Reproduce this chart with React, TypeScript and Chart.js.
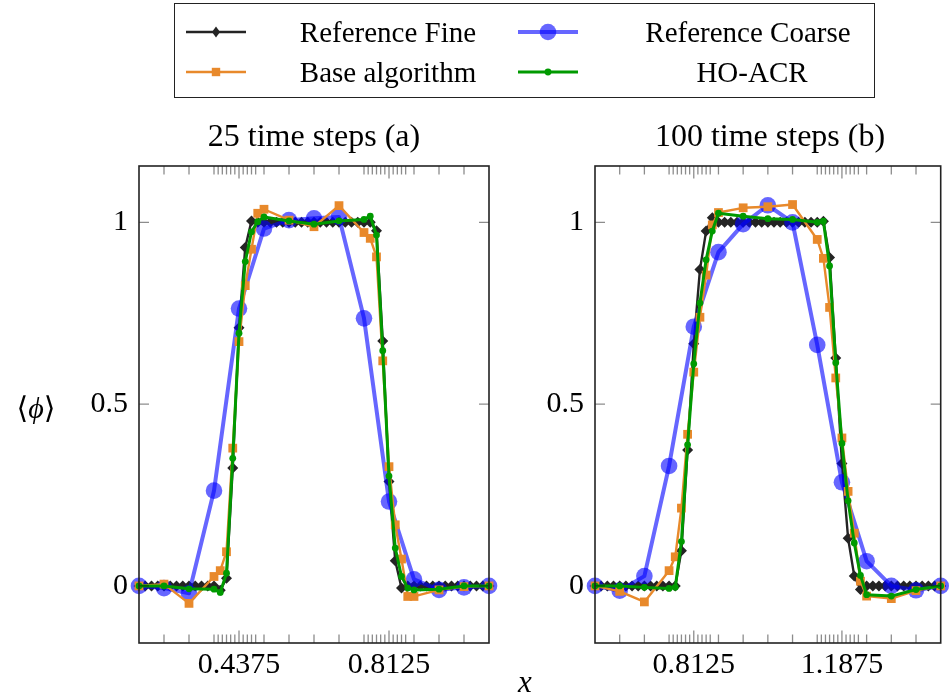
import React, { useEffect, useRef } from "react";
import { Chart, registerables } from "chart.js";

Chart.register(...registerables);

const FONT = "'Liberation Serif', 'DejaVu Serif', serif";

// ---------- shared ----------
const seriesNames = ["Reference Fine", "Reference Coarse", "Base algorithm", "HO-ACR"];
const panelTitles = ["25 time steps (a)", "100 time steps (b)"];
const yTicks = [0, 0.5, 1];
const yTickLabels = ["0", "0.5", "1"];

// ---------- left panel: 25 time steps ----------
const fineXL = [12/64, 13/64, 14/64, 15/64, 16/64, 17/64, 18/64, 19/64, 20/64, 21/64, 22/64, 23/64, 24/64, 25/64, 26/64, 27/64, 28/64, 29/64, 30/64, 31/64, 32/64, 33/64, 34/64, 35/64, 36/64, 37/64, 38/64, 39/64, 40/64, 41/64, 42/64, 43/64, 44/64, 45/64, 46/64, 47/64, 48/64, 49/64, 50/64, 51/64, 52/64, 53/64, 54/64, 55/64, 56/64, 57/64, 58/64, 59/64, 60/64, 61/64, 62/64, 63/64, 64/64, 65/64, 66/64, 67/64, 68/64];
const fineYL = [0, 0, 0, 0, 0, 0, 0, 0, 0, 0, 0, 0, 0,
  -0.012, 0.021, 0.324, 0.71, 0.931, 1.004,
  1, 1, 1, 1, 1, 1, 1, 1, 1, 1, 1, 1, 1, 1, 1, 1, 1, 1, 1,
  0.977, 0.674, 0.287, 0.069, -0.006,
  0, 0, 0, 0, 0, 0, 0, 0, 0, 0, 0, 0, 0, 0];
const coarseXL = [3/16, 4/16, 5/16, 6/16, 7/16, 8/16, 9/16, 10/16, 11/16, 12/16, 13/16, 14/16, 15/16, 16/16, 17/16];
const coarseYL = [0, -0.006, -0.02, 0.262, 0.763, 0.983, 1.006, 1.011, 1.015, 0.736, 0.232, 0.018, -0.011, -0.004, 0];
const adaptXL = [3/16, 4/16, 5/16, 24/64, 25/64, 26/64, 27/64, 28/64, 29/64, 30/64, 31/64, 32/64, 9/16, 10/16, 11/16, 48/64, 49/64, 50/64, 51/64, 52/64, 53/64, 54/64, 55/64, 56/64, 15/16, 16/16, 17/16];
const baseYL = [0, 0.005, -0.048, 0.026, 0.042, 0.094, 0.379, 0.672, 0.826, 0.926, 1.025, 1.036, 1.006, 0.988, 1.046, 0.972, 0.956, 0.905, 0.619, 0.328, 0.168, 0.074, -0.029, -0.029, -0.011, -0.002, 0];
const hoYL = [0, 0, -0.008, -0.009, -0.018, 0.035, 0.351, 0.695, 0.892, 0.974, 1.002, 1.015, 1.004, 0.995, 1.004, 1.008, 1.017, 0.965, 0.647, 0.302, 0.104, 0.026, -0.006, -0.011, -0.009, 0, 0];
const xMajorL = [0.4375, 0.8125];
const xMajorLabelsL = ["0.4375", "0.8125"];
const xMinorL = [4/16, 5/16, 6/16, 8/16, 9/16, 10/16, 11/16, 12/16, 14/16, 15/16, 16/16,
  37/96, 38/96, 39/96, 40/96, 41/96, 43/96, 44/96, 45/96, 46/96,
  73/96, 74/96, 75/96, 76/96, 77/96, 79/96, 80/96, 81/96, 82/96];

// ---------- right panel: 100 time steps ----------
const fineXR = [36/64, 37/64, 38/64, 39/64, 40/64, 41/64, 42/64, 43/64, 44/64, 45/64, 46/64, 47/64, 48/64, 49/64, 50/64, 51/64, 52/64, 53/64, 54/64, 55/64, 56/64, 57/64, 58/64, 59/64, 60/64, 61/64, 62/64, 63/64, 64/64, 65/64, 66/64, 67/64, 68/64, 69/64, 70/64, 71/64, 72/64, 73/64, 74/64, 75/64, 76/64, 77/64, 78/64, 79/64, 80/64, 81/64, 82/64, 83/64, 84/64, 85/64, 86/64, 87/64, 88/64, 89/64, 90/64, 91/64, 92/64];
const fineYR = [0, 0, 0, 0, 0, 0, 0, 0, 0, 0, 0, 0, 0, 0,
  0.097, 0.374, 0.666, 0.87, 0.976, 1.013,
  1, 1, 1, 1, 1, 1, 1, 1, 1, 1, 1, 1, 1, 1, 1, 1, 1,
  1.003,
  0.903, 0.627, 0.337, 0.131, 0.027, -0.01,
  0, 0, 0, 0, 0, 0, 0, 0, 0, 0, 0, 0, 0];
const coarseXR = [9/16, 10/16, 11/16, 12/16, 13/16, 14/16, 15/16, 16/16, 17/16, 18/16, 19/16, 20/16, 21/16, 22/16, 23/16];
const coarseYR = [0, -0.013, 0.027, 0.33, 0.713, 0.918, 0.995, 1.047, 1.0, 0.663, 0.285, 0.068, 0, -0.012, 0];
const adaptXR = [9/16, 10/16, 11/16, 48/64, 49/64, 50/64, 51/64, 52/64, 53/64, 54/64, 55/64, 56/64, 15/16, 16/16, 17/16, 72/64, 73/64, 74/64, 75/64, 76/64, 77/64, 78/64, 79/64, 80/64, 21/16, 22/16, 23/16];
const baseYR = [0, -0.015, -0.044, 0.042, 0.08, 0.214, 0.417, 0.588, 0.739, 0.855, 0.993, 1.027, 1.04, 1.043, 1.049, 0.953, 0.901, 0.766, 0.572, 0.407, 0.26, 0.145, 0.013, -0.028, -0.035, -0.013, 0];
const hoYR = [0, 0, -0.004, -0.007, -0.004, 0.122, 0.388, 0.611, 0.778, 0.897, 0.976, 1.025, 1.017, 1.01, 1.008, 1.0, 1.003, 0.88, 0.614, 0.392, 0.234, 0.118, 0.029, -0.024, -0.028, -0.01, 0];
const xMajorR = [0.8125, 1.1875];
const xMajorLabelsR = ["0.8125", "1.1875"];
const xMinorR = [10/16, 11/16, 12/16, 14/16, 15/16, 16/16, 17/16, 18/16, 20/16, 21/16, 22/16,
  73/96, 74/96, 75/96, 76/96, 77/96, 79/96, 80/96, 81/96, 82/96,
  109/96, 110/96, 111/96, 112/96, 113/96, 115/96, 116/96, 117/96, 118/96];

// ---------- styles ----------
const C_FINE = "#242424";
const C_COARSE = "rgba(0,0,255,0.6)";
const C_BASE = "#e8892b";
const C_HO = "#009a00";
const TICK_COLOR = "rgba(0,0,0,0.45)";

const W = 949;
const H = 698;
const PLOT_TOP = 166;
const PLOT_BOTTOM = 643;

function pts(xs: number[], ys: number[]) {
  return xs.map((x, i) => ({ x, y: ys[i] }));
}

function framePlugin(majorX: number[], minorX: number[]) {
  return {
    id: "frameTicks",
    afterDatasetsDraw(chart: any) {
      const { ctx, chartArea: a, scales } = chart;
      const xs = scales.x;
      const ys = scales.y;
      ctx.save();
      ctx.strokeStyle = TICK_COLOR;
      ctx.lineWidth = 1.3;
      ctx.beginPath();
      const vt = (v: number, len: number) => {
        const p = xs.getPixelForValue(v);
        ctx.moveTo(p, a.bottom);
        ctx.lineTo(p, a.bottom - len);
        ctx.moveTo(p, a.top);
        ctx.lineTo(p, a.top + len);
      };
      minorX.forEach((v) => vt(v, 8.5));
      majorX.forEach((v) => vt(v, 12.5));
      yTicks.forEach((v) => {
        const p = ys.getPixelForValue(v);
        ctx.moveTo(a.left, p);
        ctx.lineTo(a.left + 10, p);
        ctx.moveTo(a.right, p);
        ctx.lineTo(a.right - 10, p);
      });
      ctx.stroke();
      ctx.strokeStyle = "#222";
      ctx.lineWidth = 1.6;
      ctx.strokeRect(a.left, a.top, a.right - a.left, a.bottom - a.top);
      ctx.restore();
    },
  };
}

function makeConfig(p: {
  fineX: number[]; fineY: number[]; coarseX: number[]; coarseY: number[];
  adaptX: number[]; baseY: number[]; hoY: number[];
  xmin: number; xmax: number; majorX: number[]; majorLabels: string[]; minorX: number[];
  left: number; right: number;
}): any {
  return {
    type: "line",
    data: {
      datasets: [
        {
          label: seriesNames[0], data: pts(p.fineX, p.fineY), order: 4,
          borderColor: C_FINE, backgroundColor: C_FINE, borderWidth: 2.4,
          pointStyle: "rectRot", pointRadius: 5.5, pointBorderWidth: 0, pointBackgroundColor: C_FINE,
        },
        {
          label: seriesNames[1], data: pts(p.coarseX, p.coarseY), order: 3,
          borderColor: C_COARSE, backgroundColor: C_COARSE, borderWidth: 4,
          pointStyle: "circle", pointRadius: 8.3, pointBorderWidth: 0, pointBackgroundColor: C_COARSE,
        },
        {
          label: seriesNames[2], data: pts(p.adaptX, p.baseY), order: 2,
          borderColor: C_BASE, backgroundColor: C_BASE, borderWidth: 2.4,
          pointStyle: "rect", pointRadius: 6.2, pointBorderWidth: 0, pointBackgroundColor: C_BASE,
        },
        {
          label: seriesNames[3], data: pts(p.adaptX, p.hoY), order: 1,
          borderColor: C_HO, backgroundColor: C_HO, borderWidth: 3,
          pointStyle: "circle", pointRadius: 3.4, pointBorderWidth: 0, pointBackgroundColor: C_HO,
        },
      ].map((d) => ({ ...d, fill: false, tension: 0, clip: false, borderJoinStyle: "round" })),
    },
    options: {
      animation: false,
      responsive: false,
      events: [],
      devicePixelRatio: 1,
      layout: { padding: { left: p.left - 139, right: W - p.right, top: PLOT_TOP, bottom: 0 } },
      plugins: { legend: { display: false }, tooltip: { enabled: false }, title: { display: false } },
      scales: {
        x: {
          type: "linear", min: p.xmin, max: p.xmax,
          grid: { display: false, drawTicks: false }, border: { display: false },
          afterBuildTicks: (s: any) => { s.ticks = p.majorX.map((v) => ({ value: v })); },
          afterFit: (s: any) => { s.height = H - PLOT_BOTTOM; },
          ticks: {
            autoSkip: false, maxRotation: 0, minRotation: 0, padding: 4, color: "#000",
            font: { family: FONT, size: 30 },
            callback: (_v: any, i: number) => p.majorLabels[i],
          },
        },
        y: {
          type: "linear", min: -0.157, max: 1.155,
          grid: { display: false, drawTicks: false }, border: { display: false },
          afterBuildTicks: (s: any) => { s.ticks = yTicks.map((v) => ({ value: v })); },
          afterFit: (s: any) => { s.width = 139; },
          ticks: {
            autoSkip: false, padding: 11, color: "#000",
            font: { family: FONT, size: 30 },
            callback: (_v: any, i: number) => yTickLabels[i],
          },
        },
      },
    },
    plugins: [framePlugin(p.majorX, p.minorX)],
  };
}

function Txt(props: { cx: number; cy: number; size: number; children: any; style?: any }) {
  return (
    <div
      style={{
        position: "absolute", left: props.cx, top: props.cy, transform: "translate(-50%,-50%)",
        fontFamily: FONT, fontSize: props.size, lineHeight: 1, whiteSpace: "nowrap", color: "#000",
        ...(props.style || {}),
      }}
    >
      {props.children}
    </div>
  );
}

export default function App() {
  const leftRef = useRef<HTMLCanvasElement | null>(null);
  const rightRef = useRef<HTMLCanvasElement | null>(null);

  useEffect(() => {
    const c1 = new Chart(leftRef.current as HTMLCanvasElement, makeConfig({
      fineX: fineXL, fineY: fineYL, coarseX: coarseXL, coarseY: coarseYL,
      adaptX: adaptXL, baseY: baseYL, hoY: hoYL,
      xmin: 3 / 16, xmax: 17 / 16, majorX: xMajorL, majorLabels: xMajorLabelsL, minorX: xMinorL,
      left: 139, right: 489,
    }));
    const c2 = new Chart(rightRef.current as HTMLCanvasElement, makeConfig({
      fineX: fineXR, fineY: fineYR, coarseX: coarseXR, coarseY: coarseYR,
      adaptX: adaptXR, baseY: baseYR, hoY: hoYR,
      xmin: 9 / 16, xmax: 23 / 16, majorX: xMajorR, majorLabels: xMajorLabelsR, minorX: xMinorR,
      left: 595, right: 945,
    }));
    return () => { c1.destroy(); c2.destroy(); };
  }, []);

  const r1 = 32;
  const r2 = 72;
  return (
    <div style={{ position: "fixed", left: 0, top: 0, width: W, height: H, background: "#fff", overflow: "hidden" }}>
      <canvas ref={leftRef} width={W} height={H} style={{ position: "absolute", left: 0, top: 0 }} />
      <canvas ref={rightRef} width={W} height={H} style={{ position: "absolute", left: 0, top: 0 }} />

      {/* legend */}
      <div style={{ position: "absolute", left: 174, top: 3, width: 701, height: 95, border: "1.6px solid #222", boxSizing: "border-box" }} />
      <svg width={W} height={110} style={{ position: "absolute", left: 0, top: 0 }}>
        <line x1={186} y1={r1} x2={246} y2={r1} stroke={C_FINE} strokeWidth={2.4} />
        <polygon points={`216,${r1 - 5.5} 220,${r1} 216,${r1 + 5.5} 212,${r1}`} fill={C_FINE} />
        <line x1={518} y1={r1} x2={578} y2={r1} stroke={C_COARSE} strokeWidth={4} />
        <circle cx={548} cy={r1} r={8.3} fill={C_COARSE} />
        <line x1={186} y1={r2} x2={246} y2={r2} stroke={C_BASE} strokeWidth={2.4} />
        <rect x={211.8} y={r2 - 4.2} width={8.4} height={8.4} fill={C_BASE} />
        <line x1={518} y1={r2} x2={578} y2={r2} stroke={C_HO} strokeWidth={3} />
        <circle cx={548} cy={r2} r={3.4} fill={C_HO} />
      </svg>
      <Txt cx={388} cy={r1} size={29}>{seriesNames[0]}</Txt>
      <Txt cx={748} cy={r1} size={29}>{seriesNames[1]}</Txt>
      <Txt cx={388} cy={r2} size={29}>{seriesNames[2]}</Txt>
      <Txt cx={752} cy={r2} size={29}>{seriesNames[3]}</Txt>

      {/* titles */}
      <Txt cx={314} cy={135} size={32}>{panelTitles[0]}</Txt>
      <Txt cx={770} cy={135} size={32}>{panelTitles[1]}</Txt>

      {/* axis labels */}
      <Txt cx={36} cy={408} size={30}>⟨<i>ϕ</i>⟩</Txt>
      <Txt cx={525} cy={681} size={31} style={{ fontStyle: "italic" }}>x</Txt>
    </div>
  );
}
